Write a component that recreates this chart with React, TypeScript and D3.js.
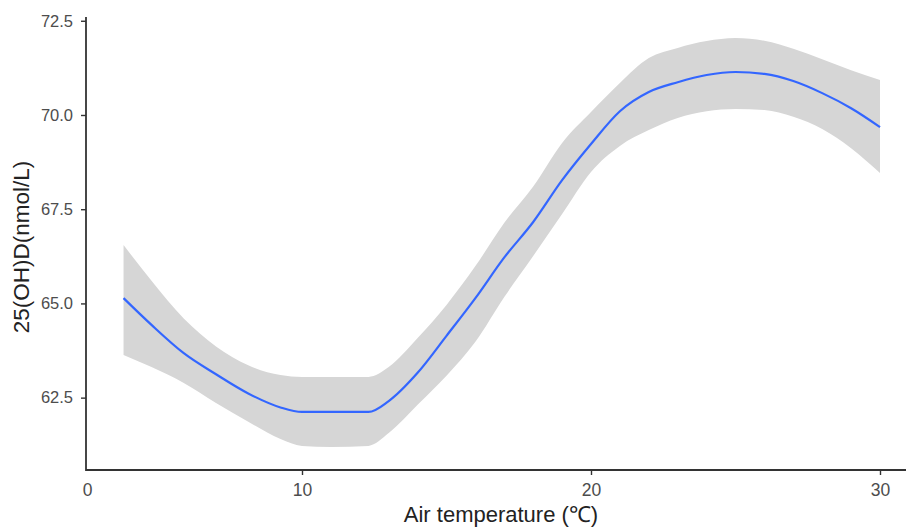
import React, { useEffect, useRef } from "react";
import * as d3 from "d3";

// loess fit of 25(OH)D against air temperature
const temps = [1.7, 3, 4.5, 6, 7.5, 9, 10, 11, 12.3, 13, 14, 15, 16, 17, 18, 19, 20, 21, 22, 23, 24, 25, 26, 27, 28, 29, 30];
const fit = [65.14, 64.43, 63.68, 63.12, 62.61, 62.24, 62.12, 62.12, 62.12, 62.41, 63.16, 64.14, 65.14, 66.22, 67.16, 68.27, 69.23, 70.1, 70.61, 70.87, 71.06, 71.14, 71.09, 70.9, 70.58, 70.18, 69.68];
const upper = [66.55, 65.6, 64.6, 63.86, 63.36, 63.1, 63.05, 63.05, 63.05, 63.31, 64.08, 64.96, 65.99, 67.14, 68.1, 69.26, 70.08, 70.85, 71.51, 71.78, 71.96, 72.04, 71.97, 71.76, 71.48, 71.19, 70.93];
const lower = [63.63, 63.31, 62.89, 62.36, 61.86, 61.4, 61.22, 61.19, 61.22, 61.56, 62.31, 63.08, 63.98, 65.17, 66.26, 67.37, 68.49, 69.18, 69.6, 69.92, 70.1, 70.16, 70.13, 69.95, 69.63, 69.12, 68.46];

const xTicks = [0, 10, 20, 30];
const yTicks = [62.5, 65, 67.5, 70, 72.5];

const width = 908;
const height = 528;

export default function App() {
  const ref = useRef<SVGSVGElement>(null);

  useEffect(() => {
    const svg = d3.select(ref.current);
    svg.selectAll("*").remove();

    // the picture's x axis is not evenly spaced below 10, keep it as drawn
    const x = d3.scaleLinear().domain([0, 10, 20, 30]).range([87, 302, 591, 880]);
    const y = d3.scaleLinear().domain([60.58, 72.6]).range([470, 17]);

    const rows = temps.map((t, i) => ({ t, fit: fit[i], lo: lower[i], hi: upper[i] }));

    const band = d3
      .area<any>()
      .x((d) => x(d.t))
      .y0((d) => y(d.lo))
      .y1((d) => y(d.hi))
      .curve(d3.curveMonotoneX);

    const line = d3
      .line<any>()
      .x((d) => x(d.t))
      .y((d) => y(d.fit))
      .curve(d3.curveMonotoneX);

    svg.append("path").attr("d", band(rows)).attr("fill", "#d6d6d6");
    svg
      .append("path")
      .attr("d", line(rows))
      .attr("fill", "none")
      .attr("stroke", "#3366ff")
      .attr("stroke-width", 2.2);

    // axes
    const xAxis = svg
      .append("g")
      .attr("transform", "translate(0,470)")
      .call(d3.axisBottom(x).tickValues(xTicks).tickFormat(d3.format("d")).tickSize(5).tickPadding(9));
    xAxis.select(".domain").remove();
    xAxis.selectAll(".tick line").filter((d: any) => d === 0).remove();

    const yAxis = svg
      .append("g")
      .attr("transform", "translate(86,0)")
      .call(d3.axisLeft(y).tickValues(yTicks).tickFormat(d3.format(".1f")).tickSize(5).tickPadding(8));
    yAxis.select(".domain").remove();

    svg.selectAll(".tick line").attr("stroke", "#333").attr("stroke-width", 1.4);
    svg
      .selectAll(".tick text")
      .attr("fill", "#4d4d4d")
      .attr("font-family", "Liberation Sans, Arial, sans-serif");
    xAxis.selectAll(".tick text").attr("font-size", 17.5);
    yAxis.selectAll(".tick text").attr("font-size", 16.5);

    svg
      .append("path")
      .attr("d", "M86,17V470H906")
      .attr("fill", "none")
      .attr("stroke", "#333")
      .attr("stroke-width", 1.8);

    // titles
    svg
      .append("text")
      .attr("x", 501)
      .attr("y", 522)
      .attr("text-anchor", "middle")
      .attr("font-family", "Liberation Sans, Arial, sans-serif")
      .attr("font-size", 22)
      .attr("fill", "#222")
      .text("Air temperature (℃)");

    svg
      .append("text")
      .attr("transform", "translate(29,247) rotate(-90)")
      .attr("text-anchor", "middle")
      .attr("font-family", "Liberation Sans, Arial, sans-serif")
      .attr("font-size", 22.5)
      .attr("fill", "#222")
      .text("25(OH)D(nmol/L)");
  }, []);

  return (
    <svg
      ref={ref}
      width={width}
      height={height}
      style={{ position: "absolute", left: 0, top: 0, background: "#fff" }}
    />
  );
}
